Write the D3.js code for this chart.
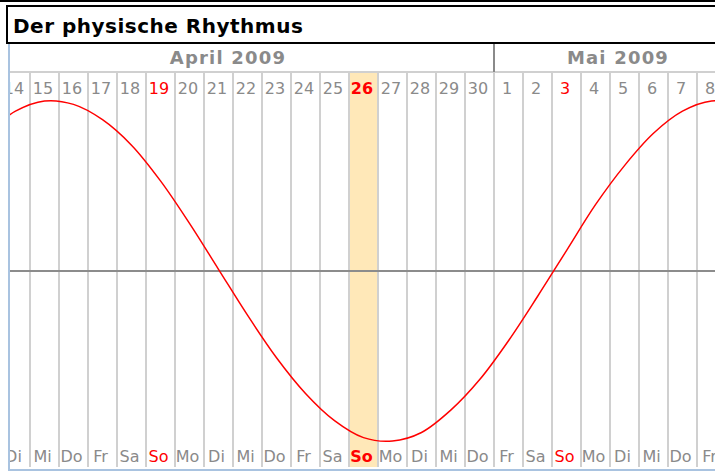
<!doctype html>
<html lang="de">
<head>
<meta charset="utf-8">
<title>Der physische Rhythmus</title>
<style>
  body { margin: 0; background: #fff; }
  svg { display: block; font-family: "DejaVu Sans", sans-serif; }
</style>
</head>
<body>
<div id="chart"></div>
<script src="https://d3js.org/d3.v7.min.js"></script>
<script>
// Daten: physischer Rhythmus (in %) für jeden Tag, 13. April bis 9. Mai 2009
const firstDay = Date.UTC(2009, 3, 13);
const physical = [81, 94, 100, 98, 89, 74, 53, 28, 1, -26, -51, -72, -88, -98,
                  -100, -95, -82, -64, -41, -15, 12, 39, 62, 81, 94, 100, 98];
const weekdays = ["So", "Mo", "Di", "Mi", "Do", "Fr", "Sa"];
const months = ["April 2009", "Mai 2009"];
const monthStarts = [Date.UTC(2009, 3, 1), Date.UTC(2009, 4, 1)];
const today = Date.UTC(2009, 3, 26);

const w = 715, h = 474;
const left = 10, colW = 29;
const gridTop = 72, gridBottom = 467;
const monthLabelX = [228, 618];

const days = physical.map((v, i) => new Date(firstDay + i * 864e5));

// Spaltenanfang für jeden Tag
const x = d3.scaleUtc()
  .domain([new Date(Date.UTC(2009, 3, 14)), new Date(Date.UTC(2009, 4, 9))])
  .range([1, 1 + 25 * colW]);
const y = d3.scaleLinear().domain([-100, 100]).range([441, 101]);

const svg = d3.select("#chart").append("svg")
  .attr("width", w).attr("height", h);

svg.append("defs").append("clipPath").attr("id", "clip")
  .append("rect").attr("x", left).attr("y", 44).attr("width", w - left).attr("height", h - 44);

// Titel
svg.append("line").attr("x1", 0).attr("x2", w).attr("y1", 1).attr("y2", 1)
  .attr("stroke", "#000").attr("stroke-width", 2);
svg.append("rect").attr("x", 7).attr("y", 6).attr("width", w + 10).attr("height", 37)
  .attr("fill", "#fff").attr("stroke", "#000").attr("stroke-width", 2);
svg.append("text").attr("x", 13).attr("y", 33)
  .attr("font-size", 20).attr("font-weight", "bold").attr("letter-spacing", 0.5)
  .attr("fill", "#000").text("Der physische Rhythmus");

const g = svg.append("g").attr("clip-path", "url(#clip)");

// heutiger Tag
g.append("rect")
  .attr("x", x(new Date(today))).attr("y", gridTop)
  .attr("width", colW).attr("height", gridBottom - gridTop)
  .attr("fill", "#ffe8b8");

// Gitterlinien
g.selectAll("line.grid").data(days).enter().append("line")
  .attr("class", "grid")
  .attr("x1", d => x(d)).attr("x2", d => x(d))
  .attr("y1", gridTop).attr("y2", gridBottom)
  .attr("stroke", "#d0d0d0").attr("stroke-width", 2);

g.append("line").attr("x1", left).attr("x2", w).attr("y1", gridTop).attr("y2", gridTop)
  .attr("stroke", "#d0d0d0").attr("stroke-width", 2);

// Monatstrenner und -beschriftung
g.selectAll("line.month").data(monthStarts).enter().append("line")
  .attr("class", "month")
  .attr("x1", d => x(new Date(d))).attr("x2", d => x(new Date(d)))
  .attr("y1", 44).attr("y2", gridTop)
  .attr("stroke", "#8a8a8a").attr("stroke-width", 2);

g.selectAll("text.month").data(months).enter().append("text")
  .attr("class", "month")
  .attr("x", (d, i) => monthLabelX[i]).attr("y", 64)
  .attr("text-anchor", "middle")
  .attr("font-size", 18).attr("font-weight", "bold").attr("letter-spacing", 1.2)
  .attr("fill", "#8a8a8a").text(d => d);

// Nulllinie
g.append("line").attr("x1", left).attr("x2", w).attr("y1", y(0)).attr("y2", y(0))
  .attr("stroke", "#8c8c8c").attr("stroke-width", 2);

// Tageszahlen und Wochentage
function dayColor(d) {
  return d.getUTCDay() === 0 ? "#ff0000" : "#8a8a8a";
}
function isToday(d) { return +d === today; }

g.selectAll("text.num").data(days).enter().append("text")
  .attr("class", "num")
  .attr("x", d => x(d) + colW / 2 - 1.5).attr("y", 94)
  .attr("text-anchor", "middle").attr("font-size", 16)
  .attr("font-weight", d => isToday(d) ? "bold" : "normal")
  .attr("fill", dayColor)
  .text(d => d.getUTCDate());

g.selectAll("text.wd").data(days).enter().append("text")
  .attr("class", "wd")
  .attr("x", d => x(d) + colW / 2 - 2).attr("y", 462)
  .attr("text-anchor", "middle").attr("font-size", 16)
  .attr("font-weight", d => isToday(d) ? "bold" : "normal")
  .attr("fill", dayColor)
  .text(d => weekdays[d.getUTCDay()]);

// Kurve
const line = d3.line()
  .x((v, i) => x(days[i]) + colW / 2)
  .y(v => y(v))
  .curve(d3.curveCatmullRom);

g.append("path").datum(physical)
  .attr("d", line)
  .attr("fill", "none").attr("stroke", "#ff0000").attr("stroke-width", 1.5);

// Rahmen links und unten
svg.append("line").attr("x1", 9).attr("x2", 9).attr("y1", 44).attr("y2", 471)
  .attr("stroke", "#a9c3e0").attr("stroke-width", 2);
svg.append("line").attr("x1", 9).attr("x2", w).attr("y1", 470).attr("y2", 470)
  .attr("stroke", "#a9c3e0").attr("stroke-width", 2);
</script>
</body>
</html>
